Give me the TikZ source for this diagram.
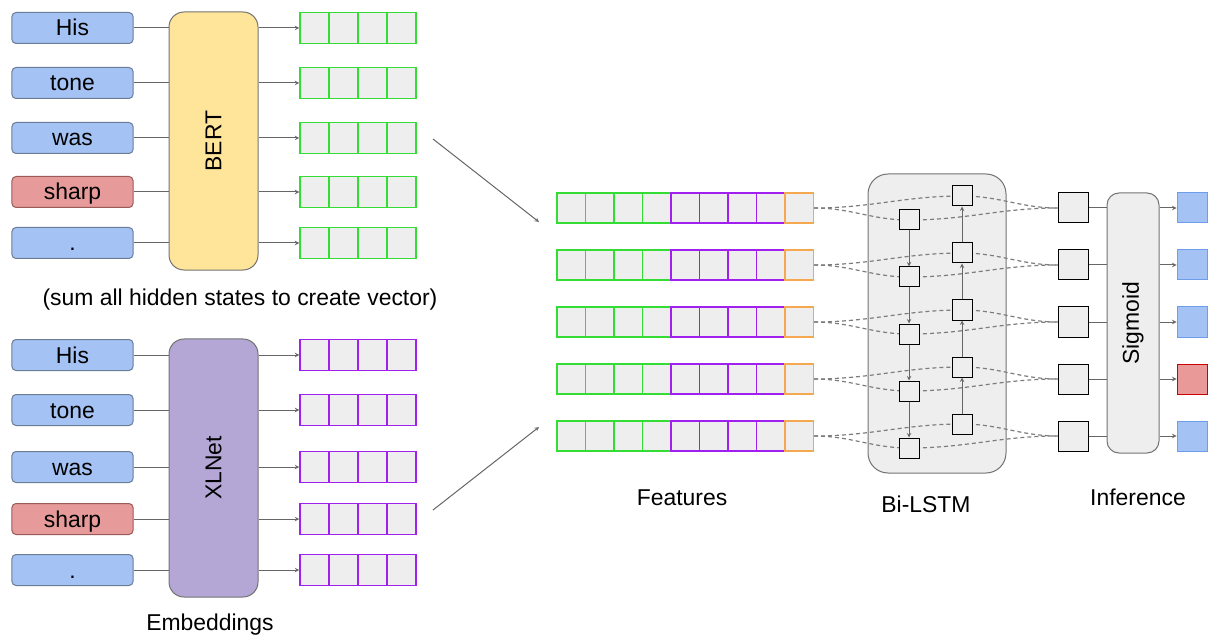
\documentclass[tikz,border=0pt]{standalone}
\usepackage{fontspec}
\setmainfont{Liberation Sans}
\usetikzlibrary{positioning}

\definecolor{wordblue}{HTML}{A4C2F4}
\definecolor{wordedge}{HTML}{6B7C96}
\definecolor{wordred}{HTML}{E69A9A}
\definecolor{rededge}{HTML}{9A5A5A}
\definecolor{bertyellow}{HTML}{FFE599}
\definecolor{xlpurple}{HTML}{B4A7D6}
\definecolor{cellgray}{HTML}{EEEEEE}
\definecolor{vgreen}{HTML}{33DD33}
\definecolor{vpurple}{HTML}{A020F0}
\definecolor{vorange}{HTML}{F6A850}
\definecolor{linegray}{HTML}{666666}
\definecolor{outedge}{HTML}{6D9EEB}
\definecolor{outred}{HTML}{EA9999}
\definecolor{outrededge}{HTML}{CC0000}

\begin{document}
\begin{tikzpicture} [x=1bp, y=-1bp,
            line width=1bp,
            font=\fontsize{23}{27}\selectfont,
            word/.style={draw=wordedge, fill=wordblue, rounded corners=4bp,
                minimum width=121bp, minimum height=31bp, inner sep=0pt,
                text height=16bp, text depth=0pt},
            redword/.style={word, draw=rededge, fill=wordred},
            model/.style={draw=black!55, rounded corners=15bp,
                minimum width=89bp, minimum height=258bp, inner sep=0pt},
            greencell/.style={draw=vgreen, fill=cellgray, minimum width=29bp,
                minimum height=31bp, inner sep=0pt, line width=1.5bp},
            purplecell/.style={greencell, draw=vpurple},
            featrow/.style={fill=cellgray, minimum width=256.5bp,
                minimum height=30bp, inner sep=0pt},
            edge/.style={line width=1.5bp},
            unit/.style={draw=black, fill=cellgray, minimum size=20bp, inner sep=0pt},
            square/.style={draw=black, fill=cellgray, minimum size=30bp, inner sep=0pt},
            outblue/.style={square, draw=outedge, fill=wordblue},
            outpink/.style={square, draw=outrededge, fill=outred},
            conn/.style={draw=linegray},
            dashline/.style={draw=linegray!85, line width=1.2bp,
                dash pattern=on 4bp off 3bp}]

        \useasboundingbox (0,0) rectangle (1208,637);

        % BERT inputs
        \node (w1) [word] at (72.5,28) {His};
        \node (w2) [word] at (72.5,83) {tone};
        \node (w3) [word] at (72.5,138) {was};
        \node (w4) [redword] at (72.5,192) {sharp};
        \node (w5) [word] at (72.5,243) {.};

        % BERT
        \node (bert) [model, fill=bertyellow] at (213.5,141) {\rotatebox{90}{BERT}};

        % XLNet inputs
        \node (x1) [word] at (72.5,355) {His};
        \node (x2) [word] at (72.5,410) {tone};
        \node (x3) [word] at (72.5,467) {was};
        \node (x4) [redword] at (72.5,519) {sharp};
        \node (x5) [word] at (72.5,570) {.};

        % XLNet
        \node (xlnet) [model, fill=xlpurple] at (213.5,468) {\rotatebox{90}{XLNet}};

        % Embedding vectors
        \foreach \y [count=\i] in {28,83,138,192,243} {
            \foreach \k in {1,...,4}
                \node (b\i-\k) [greencell] at ({285.5+29*\k},\y) {};
            \draw [conn] (w\i) -- (bert.west |- w\i);
            \draw [conn, -stealth] (bert.east |- b\i-1) -- (b\i-1);
        }
        \foreach \y [count=\i] in {355,410,467,519,570} {
            \foreach \k in {1,...,4}
                \node (c\i-\k) [purplecell] at ({285.5+29*\k},\y) {};
            \draw [conn] (x\i) -- (xlnet.west |- x\i);
            \draw [conn, -stealth] (xlnet.east |- c\i-1) -- (c\i-1);
        }

        \node (sum) at (240,300) {(sum all hidden states to create vector)};
        \node (emb) [anchor=base] at (210,630) {Embeddings};

        % Into the features
        \coordinate (bertfrom) at (433,139);
        \coordinate (bertto) at (539,222);
        \coordinate (xlfrom) at (433,510);
        \coordinate (xlto) at (539,427);
        \draw [conn, -stealth] (bertfrom) -- (bertto);
        \draw [conn, -stealth] (xlfrom) -- (xlto);

        % Bi-LSTM
        \node (bilstm) [draw=black!55, fill=cellgray, rounded corners=20bp,
            minimum width=138bp, minimum height=299bp] at (937,323.5) {};

        % Sigmoid
        \node (sig) [draw=black!55, fill=cellgray, rounded corners=12bp,
            minimum width=52bp, minimum height=260bp, inner sep=0pt]
            at (1133,323) {\rotatebox{90}{Sigmoid}};

        % Features
        \foreach \y [count=\i] in {208,265,322,379,436} {
            \node (f\i) [featrow] at (685.25,\y) {};
            \foreach \k in {0,...,3}
                \draw [edge, vgreen] ({557+28.5*\k},\y-15) rectangle +(28.5,30);
            \foreach \k in {4,...,7}
                \draw [edge, vpurple] ({557+28.5*\k},\y-15) rectangle +(28.5,30);
            \draw [edge, vorange] (785,\y-15) rectangle +(28.5,30);
        }

        % LSTM units and inference
        \foreach \y [count=\i] in {208,265,322,379,436} {
            \draw [dashline] (f\i.east) to [out=0, in=180] (909,\y+12);
            \draw [dashline] (f\i.east) to [out=0, in=180] (962,\y-12);
            \draw [dashline] (909,\y+12) to [out=0, in=180] (1058,\y);
            \draw [dashline] (962,\y-12) to [out=0, in=180] (1058,\y);
            \node (l\i) [unit] at (909,\y+12) {};
            \node (r\i) [unit] at (962,\y-12) {};
            \node (i\i) [square] at (1073,\y) {};
            \draw [conn] (i\i) -- (sig.west |- i\i);
        }

        % Outputs
        \node (o1) [outblue] at (1192,208) {};
        \node (o2) [outblue] at (1192,265) {};
        \node (o3) [outblue] at (1192,322) {};
        \node (o4) [outpink] at (1192,379) {};
        \node (o5) [outblue] at (1192,436) {};
        \foreach \i in {1,...,5}
            \draw [conn, -stealth] (sig.east |- o\i) -- (o\i);

        % LSTM directions
        \foreach \a/\b in {1/2, 2/3, 3/4, 4/5} {
            \draw [conn, -stealth] (l\a) -- (l\b);
            \draw [conn, -stealth] (r\b) -- (r\a);
        }

        % Labels
        \node (feat) [anchor=base] at (682,505) {Features};
        \node (lstmlabel) [anchor=base] at (926,512) {Bi-LSTM};
        \node (inf) [anchor=base] at (1138,505) {Inference};
\end{tikzpicture}
\end{document}
